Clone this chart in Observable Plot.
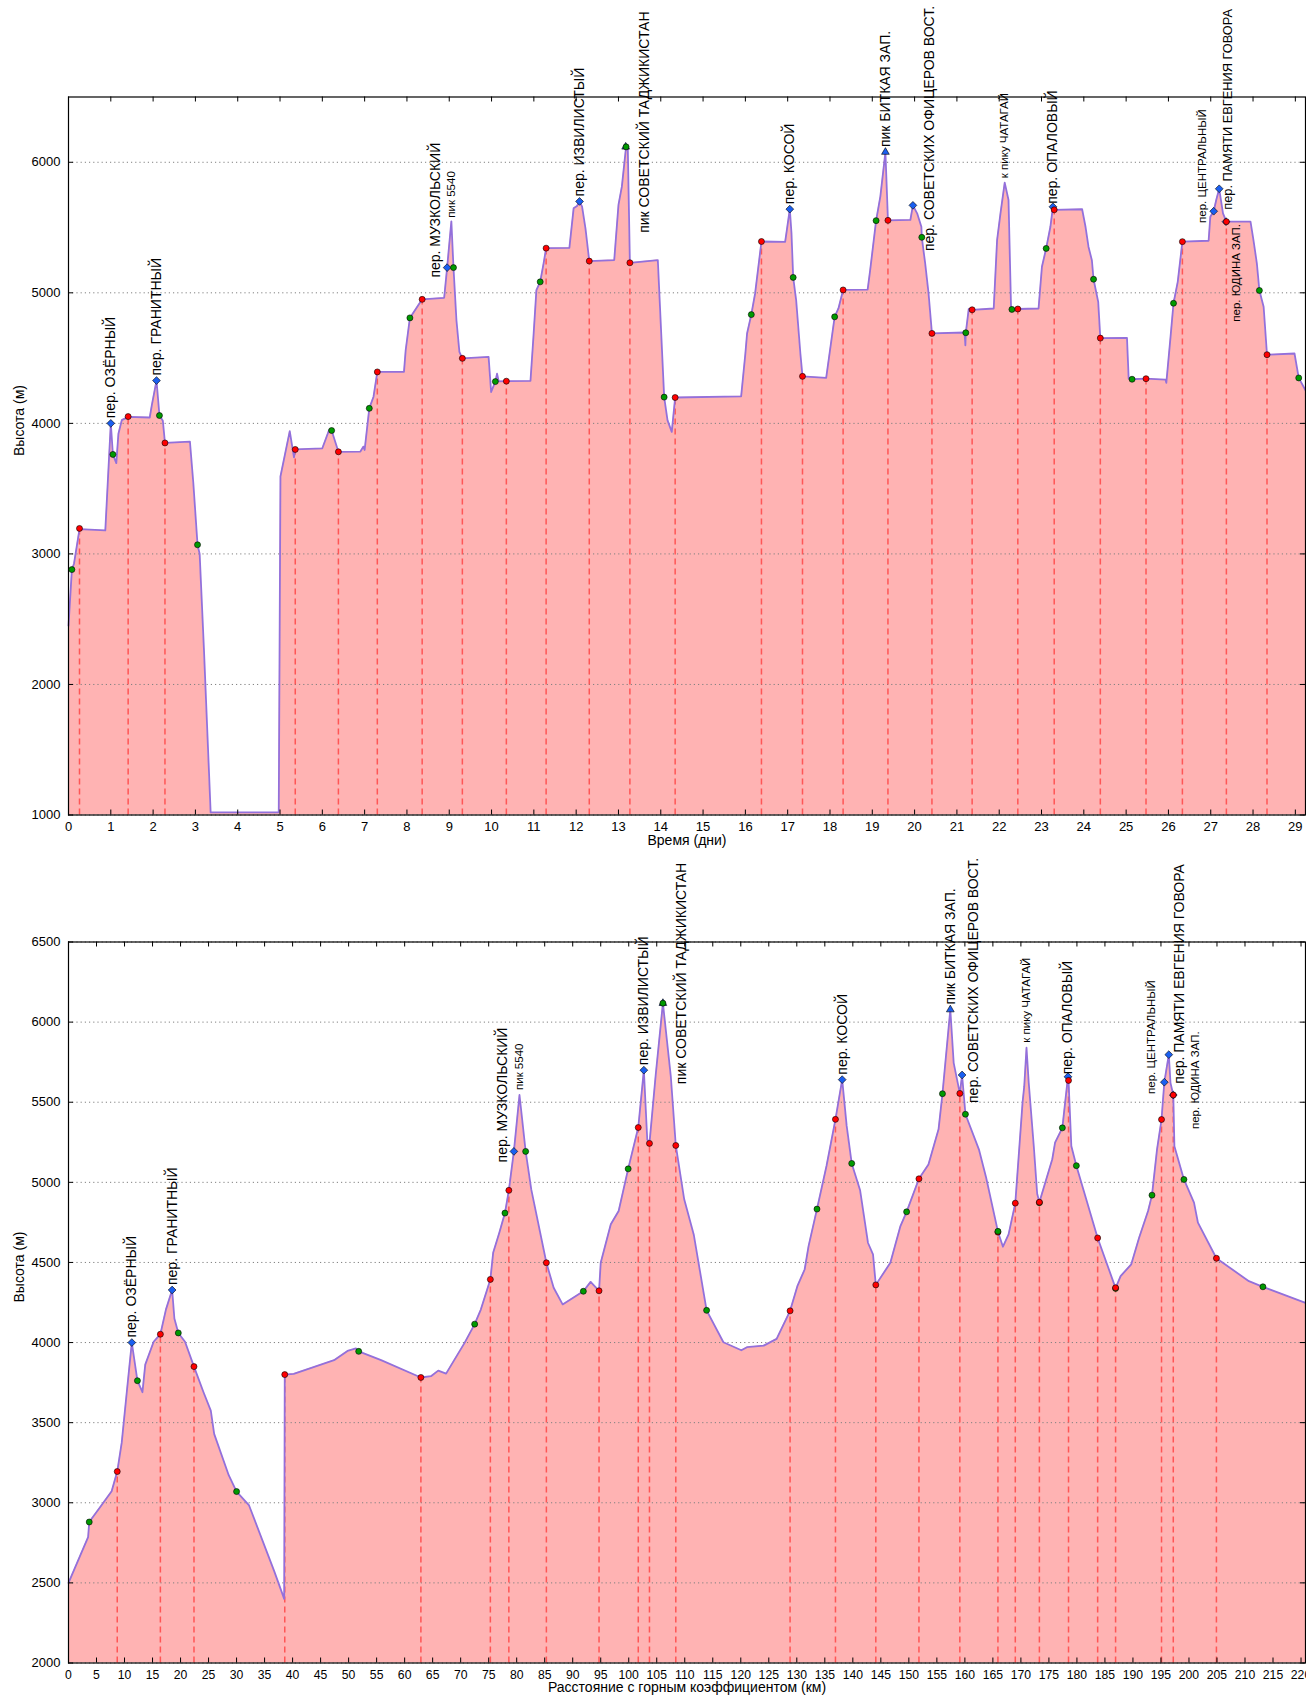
<!DOCTYPE html>
<html><head><meta charset="utf-8">
<script src="https://cdn.jsdelivr.net/npm/d3@7"></script>
<script src="https://cdn.jsdelivr.net/npm/@observablehq/plot@0.6"></script>
<style>
html,body{margin:0;padding:0;background:#fff;overflow:hidden;}
#c svg{display:block;}
</style></head><body><div id="c"></div>
<script>
// ---------- DATA ----------
// elevation profile against time: [day, altitude m]
const profileTime = [[0,2450],[0.08,2880],[0.13,2925],[0.26,3190],[0.87,3180],[1.0,4000],[1.05,3760],[1.13,3695],[1.18,3920],[1.26,4025],[1.41,4050],[1.92,4045],[1.97,4140],[2.08,4328],[2.15,4060],[2.23,4020],[2.28,3850],[2.87,3860],[2.95,3545],[3.05,3070],[3.1,3000],[3.2,2280],[3.36,1020],[4.97,1020],[5.01,3593],[5.23,3941],[5.33,3740],[5.36,3800],[6.0,3809],[6.16,3949],[6.22,3945],[6.38,3782],[6.9,3784],[6.97,3822],[7.0,3796],[7.11,4115],[7.21,4204],[7.3,4394],[7.93,4394],[7.97,4560],[8.07,4808],[8.36,4950],[8.88,4962],[8.95,5193],[9.05,5548],[9.10,5193],[9.17,4790],[9.24,4547],[9.31,4498],[9.93,4509],[9.99,4240],[10.09,4320],[10.13,4381],[10.17,4322],[10.35,4323],[10.92,4325],[10.99,4662],[11.06,5020],[11.15,5084],[11.23,5225],[11.29,5342],[11.84,5345],[11.94,5647],[12.02,5665],[12.08,5700],[12.14,5660],[12.22,5494],[12.31,5243],[12.9,5251],[13.0,5673],[13.08,5813],[13.18,6118],[13.22,6115],[13.27,5230],[13.93,5251],[14.08,4201],[14.16,4023],[14.26,3935],[14.34,4198],[15.9,4207],[16.0,4535],[16.04,4688],[16.14,4833],[16.23,4995],[16.38,5393],[16.94,5391],[16.98,5481],[17.05,5641],[17.09,5455],[17.13,5118],[17.2,4944],[17.3,4535],[17.35,4360],[17.91,4348],[18.11,4816],[18.2,4880],[18.31,5022],[18.89,5024],[18.95,5174],[19.09,5553],[19.19,5737],[19.31,6078],[19.37,5555],[19.9,5558],[19.96,5670],[20.06,5609],[20.16,5506],[20.17,5425],[20.25,5225],[20.33,4995],[20.41,4689],[21.18,4696],[21.2,4598],[21.21,4694],[21.28,4877],[21.36,4870],[21.87,4880],[21.95,5404],[22.03,5609],[22.13,5844],[22.22,5711],[22.28,4880],[22.30,4873],[22.44,4876],[22.93,4880],[23.01,5200],[23.11,5340],[23.21,5506],[23.27,5659],[23.30,5636],[23.96,5640],[24.04,5506],[24.11,5353],[24.19,5250],[24.23,5104],[24.34,4931],[24.39,4653],[25.02,4655],[25.06,4343],[25.14,4338],[25.47,4342],[25.93,4335],[25.95,4310],[26.05,4663],[26.12,4920],[26.22,5084],[26.33,5392],[26.95,5399],[26.99,5583],[27.07,5625],[27.13,5711],[27.2,5797],[27.29,5609],[27.37,5545],[27.94,5545],[28.01,5404],[28.09,5225],[28.15,5018],[28.25,4893],[28.33,4526],[28.98,4535],[29.08,4348],[29.24,4253]];

// elevation profile against distance with mountain coefficient: [km, altitude m]
const profileDist = [[0,2500],[3.5,2785],[3.7,2880],[5.6,2970],[7.7,3072],[8.7,3195],[9.5,3375],[10.4,3690],[11.3,4000],[12.3,3762],[13.2,3690],[13.7,3862],[15.2,4005],[16.4,4052],[17.4,4207],[18.5,4328],[18.9,4150],[19.6,4060],[20.8,4005],[22.4,3850],[24.1,3690],[25.4,3575],[26.0,3430],[28.6,3172],[30.0,3070],[32.2,2986],[36.7,2575],[38.5,2400],[38.6,3800],[40.2,3805],[47.4,3890],[49.8,3948],[51.3,3963],[51.8,3945],[55.8,3890],[62.9,3782],[64.7,3790],[66.0,3825],[67.4,3806],[70.7,3998],[72.5,4115],[73.6,4206],[75.3,4394],[75.8,4560],[76.9,4685],[77.9,4808],[78.6,4950],[79.5,5193],[80.5,5545],[81.6,5193],[82.6,4956],[85.3,4498],[86.6,4342],[88.2,4238],[91.9,4320],[93.2,4379],[94.7,4323],[95.0,4498],[96.8,4738],[98.2,4821],[99.9,5084],[101.7,5342],[102.7,5700],[103.3,5269],[103.7,5243],[104.8,5665],[106.1,6118],[107.5,5665],[108.4,5230],[109.9,4894],[111.6,4675],[113.9,4201],[116.9,4002],[120.1,3952],[121.1,3971],[124.1,3981],[126.4,4023],[128.8,4198],[130.1,4352],[131.4,4456],[132.1,4602],[133.6,4833],[135.3,5102],[136.9,5393],[138.1,5641],[138.9,5352],[139.8,5118],[141.3,4950],[142.7,4623],[143.6,4550],[144.1,4360],[146.7,4498],[148.5,4727],[149.6,4816],[151.8,5022],[153.5,5112],[155.3,5331],[156.0,5553],[157.4,6078],[158.0,5746],[159.1,5555],[159.5,5670],[160.1,5425],[162.5,5206],[163.8,5029],[165.9,4692],[166.8,4598],[167.8,4675],[169.0,4870],[170.3,5500],[170.6,5600],[171.0,5840],[171.4,5620],[172.3,5225],[172.9,4930],[173.3,4875],[175.6,5144],[176.1,5248],[177.4,5340],[178.4,5659],[178.5,5636],[179.0,5227],[179.9,5104],[183.7,4653],[186.9,4340],[187.8,4415],[189.7,4488],[191.1,4654],[192.7,4821],[193.4,4920],[194.3,5206],[195.1,5392],[195.6,5625],[196.4,5797],[196.7,5621],[197.2,5545],[197.4,5225],[199.1,5018],[200.9,4873],[201.6,4748],[204.9,4526],[210.7,4383],[213.2,4348],[220.8,4248]];

// camps (red): [day, km, altitude]
const camps = [[0.26,8.7,3195],[1.41,16.4,4052],[2.28,22.4,3850],[5.36,38.6,3800],[6.38,62.9,3782],[7.30,75.3,4394],[8.36,78.6,4950],[9.31,85.3,4498],[10.35,94.7,4323],[11.29,101.7,5342],[12.31,103.7,5243],[13.27,108.4,5230],[14.34,128.8,4198],[16.38,136.9,5393],[17.35,144.1,4360],[18.31,151.8,5022],[19.37,159.1,5555],[20.41,165.9,4689],[21.36,169.0,4870],[22.44,173.3,4876],[23.30,178.5,5636],[24.39,183.7,4653],[25.47,186.9,4342],[26.33,195.1,5392],[27.37,197.2,5545],[28.33,204.9,4526]];

// day starts (green): [day, km, altitude]
const starts = [[0.08,3.7,2880],[1.05,12.3,3762],[2.15,19.6,4060],[3.05,30.0,3070],[6.22,51.8,3945],[7.11,72.5,4115],[8.07,77.9,4808],[9.10,81.6,5193],[10.09,91.9,4320],[11.15,99.9,5084],[13.18,106.1,6118],[14.08,113.9,4201],[16.14,133.6,4833],[17.13,139.8,5118],[18.11,149.6,4816],[19.09,156.0,5553],[20.17,160.1,5425],[21.21,165.9,4694],[22.30,173.3,4873],[23.11,177.4,5340],[24.23,179.9,5104],[25.14,186.9,4338],[26.12,193.4,4920],[28.15,199.1,5018],[29.08,213.2,4348]];

// passes (blue diamonds): [day, km, altitude, name]
const passes = [[1.00,11.3,4000,"пер. ОЗЁРНЫЙ"],[2.08,18.5,4328,"пер. ГРАНИТНЫЙ"],[8.95,79.5,5193,"пер. МУЗКОЛЬСКИЙ"],[12.08,102.7,5700,"пер. ИЗВИЛИСТЫЙ"],[17.05,138.1,5641,"пер. КОСОЙ"],[19.96,159.5,5670,"пер. СОВЕТСКИХ ОФИЦЕРОВ ВОСТ."],[23.27,178.4,5659,"пер. ОПАЛОВЫЙ"],[27.07,195.6,5625,"пер. ЦЕНТРАЛЬНЫЙ"],[27.20,196.4,5797,"пер. ПАМЯТИ ЕВГЕНИЯ ГОВОРА"],[27.36,197.2,5545,"пер. ЮДИНА ЗАП."]];

// summits (blue triangles): [day, km, altitude, name]
const peaks = [[13.17,106.1,6118,"пик СОВЕТСКИЙ ТАДЖИКИСТАН"],[19.31,157.4,6078,"пик БИТКАЯ ЗАП."]];

// summits labelled without a marker: [day, km, altitude, name]
const summitNotes = [[9.05,80.5,5545,"пик 5540"],[22.13,171.0,5840,"к пику ЧАТАГАЙ"]];

const smallLabels = ["пик 5540","к пику ЧАТАГАЙ","пер. ЦЕНТРАЛЬНЫЙ","пер. ЮДИНА ЗАП."];

// tick values
const dayTicks = d3.range(0, 30, 1);
const kmTicks = d3.range(0, 221, 5);
const altTicksTop = [1000,2000,3000,4000,5000,6000];
const altTicksBottom = [2000,2500,3000,3500,4000,4500,5000,5500,6000,6500];

// ---------- STYLE ----------
const W = 1306;
const FONT = "'Liberation Sans', Arial, Helvetica, sans-serif";
// [dx, dy, fontSize?] pixel nudges of the rotated labels
const labelNudgeTop = {
  "пер. МУЗКОЛЬСКИЙ": [-12, 10],
  "пик СОВЕТСКИЙ ТАДЖИКИСТАН": [18.6, 86],
  "пер. СОВЕТСКИХ ОФИЦЕРОВ ВОСТ.": [16.6, 45.7],
  "пер. ЦЕНТРАЛЬНЫЙ": [-11.6, 11.7],
  "пер. ПАМЯТИ ЕВГЕНИЯ ГОВОРА": [9, 21, 12.8],
  "пер. ЮДИНА ЗАП.": [10, 100],
  "пер. ОПАЛОВЫЙ": [0, -3],
  "пик 5540": [0, -4]
};
const labelNudgeBottom = {
  "пер. МУЗКОЛЬСКИЙ": [-11, 11],
  "пик СОВЕТСКИЙ ТАДЖИКИСТАН": [18.4, 81],
  "пер. СОВЕТСКИХ ОФИЦЕРОВ ВОСТ.": [11, 28],
  "пер. ЦЕНТРАЛЬНЫЙ": [-13, 11.7],
  "пер. ПАМЯТИ ЕВГЕНИЯ ГОВОРА": [10.3, 29],
  "пер. ЮДИНА ЗАП.": [21.6, 34],
  "пер. ОПАЛОВЫЙ": [0, -2.5]
};
const markerStyle = {
  camp:  {fill: "#ff0000", symbol: "circle", r: 3},
  start: {fill: "#009a00", symbol: "circle", r: 3},
  pass:  {fill: "#1a5ff0", symbol: "diamond2", r: 3.5},
  peak:  {fill: "#1a5ff0", symbol: "triangle2", r: 3.7}
};

// ---------- BUILD ----------
const waypoints = [
  ...camps.map(d => ({day: d[0], km: d[1], alt: d[2], ...markerStyle.camp})),
  ...starts.map(d => ({day: d[0], km: d[1], alt: d[2], ...markerStyle.start})),
  ...passes.map(d => ({day: d[0], km: d[1], alt: d[2], ...markerStyle.pass})),
  ...peaks.map(d => ({day: d[0], km: d[1], alt: d[2], ...markerStyle.peak}))
].sort((a, b) => a.day - b.day);

const labels = [...passes, ...peaks, ...summitNotes]
  .map(d => ({day: d[0], km: d[1], alt: d[2], name: d[3]}));

function makeChart(o) {
  const {profile, key, xDomain, yDomain, xTicks, yTicks, xTickFont, height, margin, xTitle, nudges, xTitleDy} = o;
  const pw = W - margin.left - margin.right;
  const ph = height - margin.top - margin.bottom;
  const y0 = yDomain[0];
  const labelMarks = labels.map(l => {
    const [dx, dy, fs] = nudges[l.name] || [0, -5];
    return Plot.text([l], {
      x: key, y: "alt", text: "name", rotate: -90, textAnchor: "start", lineAnchor: "middle",
      fontSize: fs || (smallLabels.includes(l.name) ? 11.5 : 14), fill: "#000", dx, dy
    });
  });
  return Plot.plot({
    width: W, height,
    marginLeft: margin.left, marginRight: margin.right, marginTop: margin.top, marginBottom: margin.bottom,
    style: {fontFamily: FONT, fontSize: "13px", background: "#fff", color: "#000", overflow: "visible"},
    x: {domain: xDomain, axis: null},
    y: {domain: yDomain, axis: null},
    r: {type: "identity"},
    marks: [
      Plot.areaY(profile, {x: d => d[0], y1: y0, y2: d => d[1], fill: "#ffb3b3"}),
      Plot.ruleY(yTicks, {y: d => d, stroke: "#808080", strokeWidth: 1, strokeDasharray: "1.2,3"}),
      Plot.ruleX(camps, {x: d => key === "day" ? d[0] : d[1], y1: y0, y2: d => d[2], stroke: "#ff4545", strokeOpacity: 0.85, strokeWidth: 1.5, strokeDasharray: "6,4"}),
      Plot.line(profile, {x: d => d[0], y: d => d[1], stroke: "#9370db", strokeWidth: 1.8}),
      Plot.ruleX(xTicks, {x: d => d, insetBottom: ph - 5, stroke: "#000"}),
      Plot.ruleX(xTicks, {x: d => d, insetTop: ph - 5, stroke: "#000"}),
      Plot.ruleY(yTicks, {y: d => d, insetRight: pw - 5, stroke: "#000"}),
      Plot.ruleY(yTicks, {y: d => d, insetLeft: pw - 5, stroke: "#000"}),
      Plot.frame({stroke: "#000", strokeWidth: 1.2}),
      Plot.dot(waypoints, {x: key, y: "alt", fill: "fill", symbol: "symbol", r: "r", stroke: "#000", strokeWidth: 0.6}),
      ...labelMarks,
      Plot.axisX({ticks: xTicks, tickSize: 0, tickPadding: 7, tickFormat: d => String(d), label: null, fontSize: xTickFont}),
      Plot.axisY({ticks: yTicks, tickSize: 0, tickPadding: 8, tickFormat: d => String(d), label: null, fontSize: 13}),
      Plot.text([xTitle], {frameAnchor: "bottom", dy: xTitleDy, text: d => d, fontSize: 14, fill: "#000"}),
      Plot.text(["Высота (м)"], {frameAnchor: "left", dx: -48.5, rotate: -90, text: d => d, fontSize: 14, fill: "#000"})
    ]
  });
}

const chartTime = makeChart({
  profile: profileTime, key: "day", xDomain: [0, 29.24], yDomain: [1000, 6500],
  xTicks: dayTicks, yTicks: altTicksTop, xTickFont: 13, height: 860,
  margin: {left: 68, right: 1, top: 96.5, bottom: 45.5},
  xTitle: "Время (дни)", xTitleDy: 29.5, nudges: labelNudgeTop
});
const chartDist = makeChart({
  profile: profileDist, key: "km", xDomain: [0, 220.8], yDomain: [2000, 6500],
  xTicks: kmTicks, yTicks: altTicksBottom, xTickFont: 12.2, height: 839,
  margin: {left: 68, right: 1, top: 81.5, bottom: 36.5},
  xTitle: "Расстояние с горным коэффициентом (км)", xTitleDy: 28.5, nudges: labelNudgeBottom
});
document.getElementById("c").append(chartTime, chartDist);
</script>
</body></html>
